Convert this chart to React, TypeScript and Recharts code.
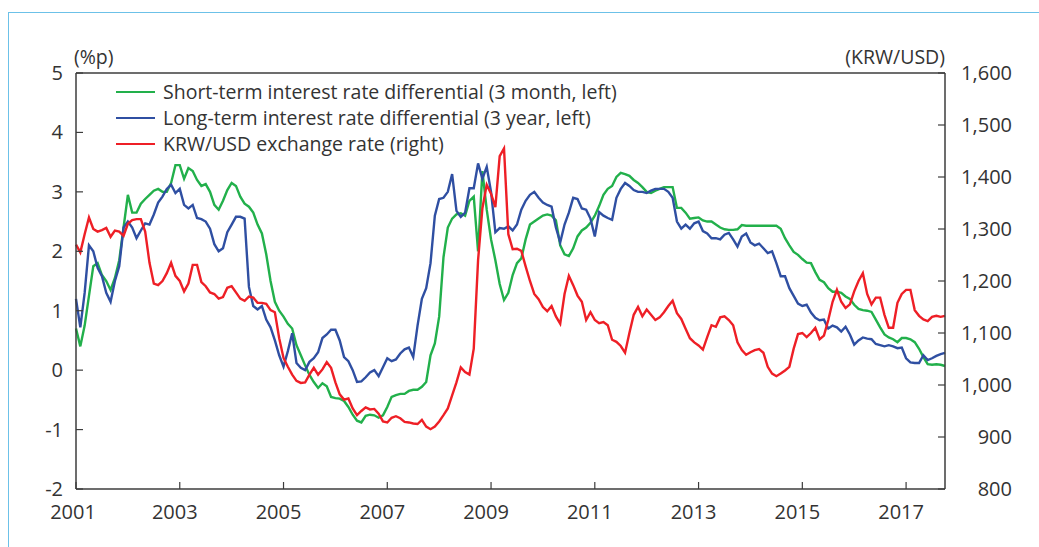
import { LineChart, Line, XAxis, YAxis, ReferenceLine } from "recharts";

// Monthly series, Jan 2001 - Oct 2017
const startYear = 2001;

// Short-term interest rate differential (3 month), %p
const shortTerm = [
  0.7, 0.4, 0.75, 1.25, 1.75, 1.8, 1.6, 1.5, 1.35, 1.55, 1.85, 2.4, // 2001
  2.95, 2.65, 2.65, 2.8, 2.88, 2.95, 3.02, 3.05, 3.0, 3.0, 3.15, 3.45, // 2002
  3.45, 3.22, 3.4, 3.35, 3.2, 3.1, 3.13, 3.0, 2.78, 2.7, 2.85, 3.03, // 2003
  3.15, 3.1, 2.92, 2.8, 2.75, 2.65, 2.45, 2.3, 1.95, 1.5, 1.15, 1.0, // 2004
  0.9, 0.78, 0.7, 0.42, 0.25, 0.08, -0.08, -0.2, -0.3, -0.22, -0.27, -0.45, // 2005
  -0.47, -0.48, -0.52, -0.62, -0.75, -0.85, -0.88, -0.77, -0.75, -0.76, -0.8, -0.76, // 2006
  -0.62, -0.45, -0.42, -0.4, -0.4, -0.35, -0.33, -0.33, -0.28, -0.2, 0.25, 0.45, // 2007
  0.9, 1.9, 2.4, 2.55, 2.62, 2.64, 2.6, 2.85, 2.92, 2.0, 3.35, 2.7, // 2008
  2.2, 1.85, 1.45, 1.18, 1.3, 1.6, 1.8, 1.88, 2.2, 2.45, 2.5, 2.55, // 2009
  2.6, 2.62, 2.6, 2.52, 2.1, 1.95, 1.92, 2.05, 2.25, 2.35, 2.4, 2.48, // 2010
  2.6, 2.76, 2.95, 3.05, 3.1, 3.25, 3.32, 3.3, 3.27, 3.2, 3.15, 3.08, // 2011
  3.0, 2.98, 3.02, 3.05, 3.08, 3.08, 3.08, 2.73, 2.73, 2.65, 2.55, 2.56, // 2012
  2.57, 2.52, 2.5, 2.5, 2.45, 2.4, 2.37, 2.36, 2.36, 2.37, 2.44, 2.43, // 2013
  2.43, 2.43, 2.43, 2.43, 2.43, 2.43, 2.43, 2.38, 2.22, 2.1, 1.99, 1.94, // 2014
  1.87, 1.81, 1.8, 1.65, 1.52, 1.48, 1.38, 1.32, 1.32, 1.3, 1.24, 1.2, // 2015
  1.1, 1.03, 1.01, 1.0, 0.98, 0.85, 0.72, 0.6, 0.55, 0.52, 0.47, 0.54, // 2016
  0.54, 0.52, 0.47, 0.36, 0.22, 0.1, 0.09, 0.1, 0.09, 0.07, // 2017
];

// Long-term interest rate differential (3 year), %p
const longTerm = [
  1.2, 0.72, 1.3, 2.1, 2.0, 1.72, 1.58, 1.3, 1.15, 1.5, 1.75, 2.4, // 2001
  2.5, 2.4, 2.22, 2.35, 2.47, 2.45, 2.62, 2.82, 2.92, 3.05, 3.12, 2.98, // 2002
  3.05, 2.78, 2.72, 2.78, 2.56, 2.54, 2.5, 2.38, 2.12, 2.0, 2.05, 2.32, // 2003
  2.45, 2.58, 2.58, 2.55, 1.4, 1.08, 1.02, 1.08, 0.85, 0.72, 0.5, 0.25, // 2004
  0.06, 0.32, 0.62, 0.12, 0.04, 0.0, 0.14, 0.2, 0.3, 0.54, 0.6, 0.68, // 2005
  0.68, 0.5, 0.22, 0.15, 0.0, -0.2, -0.19, -0.12, -0.04, 0.0, -0.1, 0.05, // 2006
  0.2, 0.15, 0.18, 0.28, 0.35, 0.38, 0.22, 0.75, 1.2, 1.38, 1.8, 2.6, // 2007
  2.88, 2.9, 3.0, 3.3, 2.68, 2.58, 2.65, 3.06, 3.06, 3.48, 3.22, 3.42, // 2008
  3.0, 2.32, 2.39, 2.38, 2.42, 2.35, 2.45, 2.7, 2.85, 2.95, 3.0, 2.9, // 2009
  2.82, 2.78, 2.75, 2.4, 2.15, 2.45, 2.65, 2.9, 2.88, 2.72, 2.7, 2.55, // 2010
  2.25, 2.66, 2.6, 2.56, 2.53, 2.9, 3.05, 3.15, 3.1, 3.03, 3.0, 3.0, // 2011
  2.98, 3.02, 3.05, 3.05, 3.05, 3.0, 2.9, 2.5, 2.38, 2.45, 2.38, 2.47, // 2012
  2.5, 2.34, 2.3, 2.22, 2.22, 2.2, 2.28, 2.31, 2.2, 2.08, 2.25, 2.3, // 2013
  2.15, 2.1, 2.13, 2.05, 1.97, 2.0, 1.8, 1.58, 1.58, 1.38, 1.25, 1.12, // 2014
  1.08, 1.1, 0.97, 0.88, 0.84, 0.85, 0.7, 0.75, 0.72, 0.65, 0.73, 0.6, // 2015
  0.43, 0.5, 0.55, 0.53, 0.52, 0.44, 0.42, 0.4, 0.42, 0.4, 0.37, 0.38, // 2016
  0.2, 0.13, 0.12, 0.12, 0.25, 0.17, 0.2, 0.24, 0.27, 0.29, // 2017
];

// KRW/USD exchange rate, right axis
const krwUsd = [
  1270, 1255, 1290, 1322, 1300, 1295, 1298, 1302, 1285, 1297, 1295, 1287, // 2001
  1310, 1317, 1319, 1319, 1295, 1235, 1195, 1192, 1200, 1215, 1235, 1210, // 2002
  1200, 1180, 1195, 1231, 1231, 1198, 1190, 1178, 1175, 1166, 1169, 1187, // 2003
  1190, 1178, 1166, 1162, 1170, 1168, 1158, 1158, 1156, 1144, 1140, 1090, // 2004
  1052, 1035, 1020, 1008, 1004, 1005, 1020, 1033, 1020, 1030, 1044, 1033, // 2005
  1005, 982, 972, 974, 955, 942, 950, 957, 953, 954, 945, 930, // 2006
  928, 937, 940, 936, 929, 928, 926, 925, 933, 920, 915, 920, // 2007
  930, 942, 955, 980, 1005, 1034, 1025, 1020, 1070, 1240, 1340, 1385, // 2008
  1368, 1342, 1440, 1455, 1290, 1261, 1262, 1258, 1228, 1200, 1175, 1165, // 2009
  1150, 1142, 1152, 1132, 1118, 1175, 1210, 1192, 1172, 1160, 1125, 1140, // 2010
  1125, 1119, 1121, 1115, 1087, 1083, 1075, 1062, 1100, 1135, 1150, 1132, // 2011
  1145, 1135, 1125, 1130, 1140, 1152, 1162, 1138, 1127, 1108, 1090, 1082, // 2012
  1076, 1068, 1092, 1115, 1112, 1130, 1132, 1125, 1115, 1082, 1067, 1058, // 2013
  1063, 1067, 1069, 1062, 1035, 1022, 1017, 1022, 1028, 1035, 1070, 1098, // 2014
  1100, 1092, 1100, 1110, 1088, 1095, 1125, 1160, 1183, 1160, 1148, 1155, // 2015
  1180, 1200, 1215, 1175, 1155, 1168, 1168, 1135, 1110, 1110, 1158, 1175, // 2016
  1183, 1183, 1144, 1133, 1126, 1123, 1131, 1133, 1131, 1133, // 2017
];

const yearTicks = [2001, 2003, 2005, 2007, 2009, 2011, 2013, 2015, 2017];
const leftTicks = [-2, -1, 0, 1, 2, 3, 4, 5];
const rightTicks = [800, 900, 1000, 1100, 1200, 1300, 1400, 1500, 1600];

const seriesInfo = [
  { key: "shortTerm", name: "Short-term interest rate differential (3 month, left)", color: "#22b04b" },
  { key: "longTerm", name: "Long-term interest rate differential (3 year, left)", color: "#2f4fa2" },
  { key: "krwUsd", name: "KRW/USD exchange rate (right)", color: "#ee1f26" },
];

const data = shortTerm.map((v, i) => ({
  t: i,
  shortTerm: v,
  longTerm: longTerm[i],
  krwUsd: krwUsd[i],
}));

const axisColor = "#3c3c3c";
const textColor = "#333333";
const font = "'Open Sans', 'Noto Sans', sans-serif";

const LeftTick = (props: any) => {
  const { x, y, payload } = props;
  return (
    <g>
      <line x1={x} x2={x + 7} y1={y} y2={y} stroke={axisColor} strokeWidth={1.2} />
      <text x={x - 13} y={y + 7} textAnchor="end" fontSize={20} fill={textColor} fontFamily={font}>
        {payload.value}
      </text>
    </g>
  );
};

const RightTick = (props: any) => {
  const { x, y, payload } = props;
  return (
    <g>
      <line x1={x} x2={x - 7} y1={y} y2={y} stroke={axisColor} strokeWidth={1.2} />
      <text x={x + 67} y={y + 7} textAnchor="end" fontSize={20} fill={textColor} fontFamily={font}>
        {Number(payload.value).toLocaleString("en-US")}
      </text>
    </g>
  );
};

const BottomTick = (props: any) => {
  const { x, y, payload } = props;
  const year = startYear + payload.value / 12;
  return (
    <g>
      <line x1={x} x2={x} y1={y} y2={y - 7} stroke={axisColor} strokeWidth={1.2} />
      <text x={x - (year === startYear ? 3 : 5)} y={y + 30} textAnchor="middle" fontSize={20} fill={textColor} fontFamily={font}>
        {year}
      </text>
    </g>
  );
};

export default function App() {
  return (
    <div
      style={{
        position: "absolute",
        left: 0,
        top: 0,
        width: 1039,
        height: 547,
        background: "#fff",
        fontFamily: font,
        overflow: "hidden",
      }}
    >
      {/* light blue frame */}
      <div
        style={{
          position: "absolute",
          left: 8,
          top: 12,
          width: 1040,
          height: 560,
          borderTop: "1.5px solid #6cc1e8",
          borderLeft: "1.5px solid #6cc1e8",
        }}
      />
      <div style={{ position: "absolute", left: 0, top: 0 }}>
        <LineChart width={1039} height={547} data={data} margin={{ top: 73, right: 14, bottom: 28, left: 16 }}>
          <XAxis
            dataKey="t"
            type="number"
            domain={[0, 201]}
            ticks={yearTicks.map((y) => (y - startYear) * 12)}
            tick={<BottomTick />}
            tickLine={false}
            tickSize={0}
            tickMargin={0}
            height={30}
            axisLine={{ stroke: axisColor, strokeWidth: 1.5 }}
            interval={0}
          />
          <YAxis
            yAxisId="left"
            domain={[-2, 5]}
            ticks={leftTicks}
            tick={<LeftTick />}
            tickLine={false}
            tickSize={0}
            tickMargin={0}
            width={60}
            axisLine={{ stroke: axisColor, strokeWidth: 1.5 }}
            interval={0}
          />
          <YAxis
            yAxisId="right"
            orientation="right"
            domain={[800, 1600]}
            ticks={rightTicks}
            tick={<RightTick />}
            tickLine={false}
            tickSize={0}
            tickMargin={0}
            width={80}
            axisLine={{ stroke: axisColor, strokeWidth: 1.5 }}
            interval={0}
          />
          <ReferenceLine yAxisId="left" y={5} stroke={axisColor} strokeWidth={1.5} />
          {seriesInfo.map((s) => (
            <Line
              key={s.key}
              yAxisId={s.key === "krwUsd" ? "right" : "left"}
              type="linear"
              dataKey={s.key}
              stroke={s.color}
              strokeWidth={2.4}
              dot={false}
              isAnimationActive={false}
            />
          ))}
        </LineChart>
      </div>
      {/* axis units */}
      <div style={{ position: "absolute", left: 74, top: 43, fontSize: 19.5, lineHeight: "27px", color: textColor }}>(%p)</div>
      <div style={{ position: "absolute", right: 94, top: 43, fontSize: 19.5, lineHeight: "27px", color: textColor }}>(KRW/USD)</div>
      {/* legend */}
      <div style={{ position: "absolute", left: 116, top: 79 }}>
        {seriesInfo.map((s) => (
          <div key={s.key} style={{ display: "flex", alignItems: "center", height: 26 }}>
            <div style={{ width: 39, height: 2.5, background: s.color, marginRight: 8 }} />
            <span style={{ fontSize: 19.5, lineHeight: "26px", color: textColor, whiteSpace: "nowrap" }}>{s.name}</span>
          </div>
        ))}
      </div>
    </div>
  );
}
